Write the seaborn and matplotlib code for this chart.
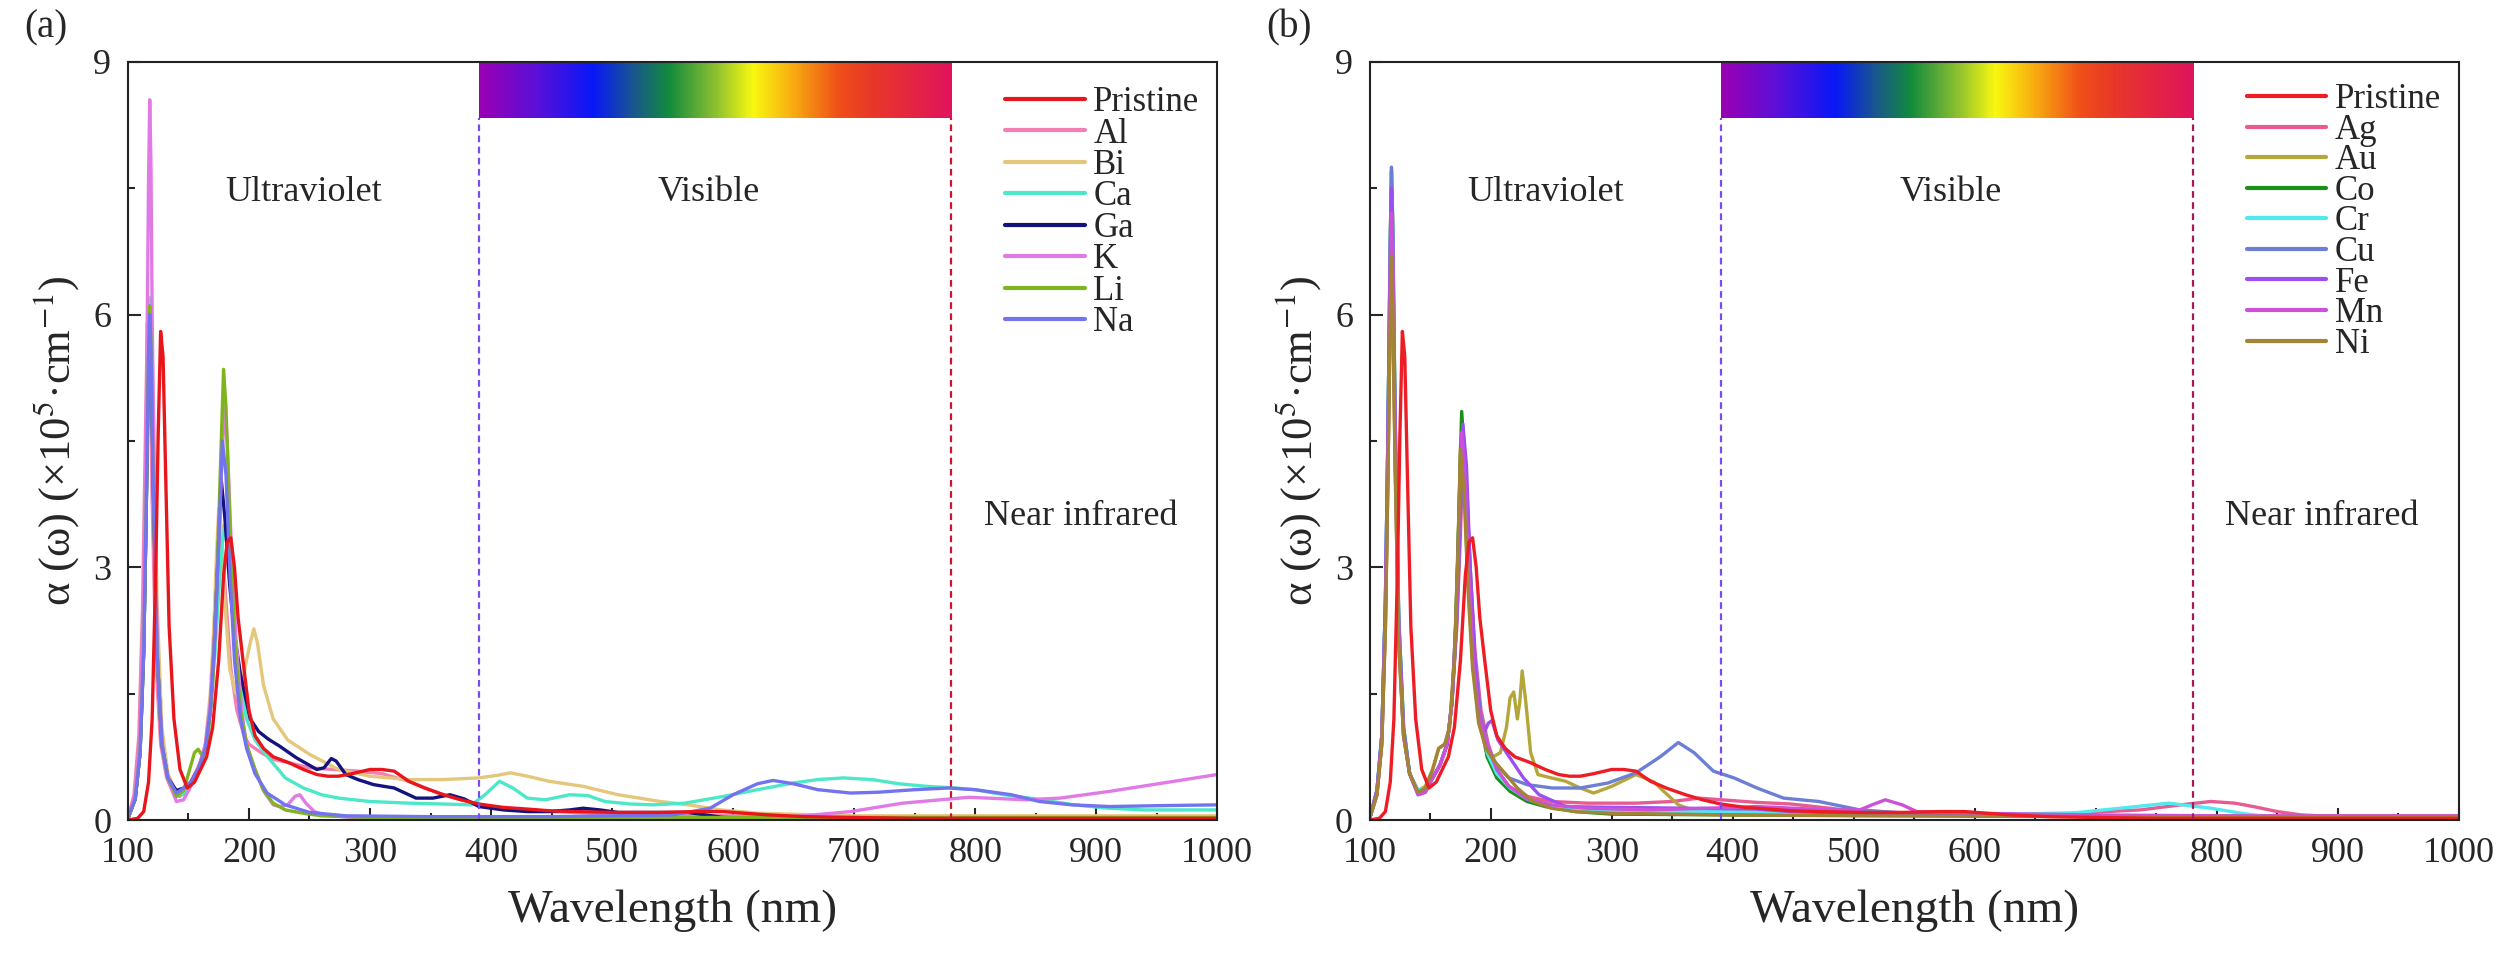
import numpy as np
import pandas as pd
import matplotlib
matplotlib.use("Agg")
import matplotlib.pyplot as plt
from matplotlib.colors import LinearSegmentedColormap
import seaborn as sns

# ---- spectra: wavelength (nm) and alpha (x1e5 cm^-1) ----
wl_pristine = [100, 108, 113, 117, 120, 123, 125, 127, 129, 131, 134, 138, 143, 149, 155, 160, 165, 170, 175, 179,
               182, 185, 188, 191, 195, 200, 205, 212, 220, 233, 245, 256, 265, 274, 285, 300, 310, 320, 332, 345,
               361, 375, 390, 410, 430, 448, 470, 505, 540, 570, 592, 610, 630, 660, 700, 750, 800, 900, 1000]
ab_pristine = [0.0, 0.02, 0.1, 0.45, 1.2, 3.0, 4.6, 5.8, 5.5, 4.2, 2.3, 1.2, 0.6, 0.38, 0.45, 0.6, 0.75, 1.1, 1.9, 2.9,
               3.3, 3.35, 3.0, 2.4, 1.9, 1.3, 1.0, 0.85, 0.75, 0.68, 0.6, 0.54, 0.52, 0.52, 0.55, 0.6, 0.6, 0.58, 0.46, 0.38,
               0.3, 0.24, 0.19, 0.15, 0.13, 0.11, 0.1, 0.09, 0.09, 0.1, 0.1, 0.08, 0.06, 0.04, 0.03, 0.02, 0.02, 0.02, 0.02]

# panel (a)
wl_al = [100, 105, 109, 112, 114, 116, 118, 120, 123, 127, 132, 138, 143, 150, 157, 163, 168, 171, 174, 176, 178, 181,
         185, 190, 196, 200, 210, 220, 233, 250, 270, 290, 310, 332, 360, 400, 450, 500, 600, 700, 800, 900, 1000]
ab_al = [0.02, 0.3, 1.0, 2.5, 4.2, 5.9, 5.6, 3.8, 1.9, 0.9, 0.5, 0.3, 0.28, 0.4, 0.6, 0.8, 1.3, 2.0, 2.9, 3.3, 3.2, 2.6,
         1.8, 1.3, 1.0, 0.9, 0.8, 0.72, 0.68, 0.62, 0.6, 0.58, 0.55, 0.46, 0.3, 0.15, 0.1, 0.07, 0.05, 0.04, 0.03, 0.03, 0.03]

wl_bi = [100, 106, 110, 113, 115, 117, 119, 121, 124, 128, 133, 140, 146, 152, 158, 164, 168, 171, 173, 175, 177, 180,
         184, 189, 194, 198, 201, 204, 207, 212, 220, 232, 250, 274, 300, 332, 360, 390, 405, 416, 430, 448, 476, 505,
         540, 563, 590, 621, 700, 800, 900, 1000]
ab_bi = [0.02, 0.25, 0.8, 2.0, 3.6, 5.3, 6.0, 5.0, 2.6, 1.1, 0.55, 0.32, 0.3, 0.42, 0.6, 0.9, 1.5, 2.3, 3.1, 3.7, 3.5, 2.6,
         1.8, 1.5, 1.6, 1.9, 2.1, 2.27, 2.1, 1.6, 1.2, 0.95, 0.78, 0.6, 0.52, 0.48, 0.48, 0.5, 0.53, 0.56, 0.52, 0.46, 0.4, 0.3,
         0.22, 0.18, 0.12, 0.08, 0.05, 0.05, 0.05, 0.05]

wl_ca = [100, 106, 110, 113, 115, 117, 118, 119, 121, 124, 128, 133, 140, 146, 152, 158, 164, 168, 172, 175, 178, 180,
         183, 187, 192, 198, 205, 216, 230, 245, 260, 274, 300, 332, 360, 384, 395, 407, 418, 430, 445, 465, 480, 494,
         515, 534, 560, 592, 620, 650, 670, 691, 715, 737, 760, 784, 800, 824, 850, 882, 910, 940, 1000]
ab_ca = [0.02, 0.25, 0.8, 2.0, 3.6, 5.6, 6.2, 5.8, 4.0, 2.0, 0.9, 0.5, 0.3, 0.3, 0.42, 0.6, 0.85, 1.3, 2.0, 2.7, 3.3, 3.5,
         3.2, 2.4, 1.7, 1.2, 0.95, 0.74, 0.5, 0.38, 0.3, 0.26, 0.22, 0.2, 0.19, 0.18, 0.3, 0.46, 0.38, 0.26, 0.24, 0.3, 0.29, 0.22,
         0.19, 0.18, 0.2, 0.28, 0.36, 0.44, 0.48, 0.5, 0.48, 0.43, 0.4, 0.38, 0.36, 0.3, 0.25, 0.18, 0.14, 0.12, 0.12]

wl_ga = [100, 106, 110, 113, 115, 117, 118, 119, 121, 124, 128, 133, 140, 146, 152, 158, 164, 168, 171, 174, 177, 180,
         184, 188, 193, 201, 208, 216, 225, 239, 250, 256, 262, 268, 272, 280, 290, 303, 320, 338, 352, 366, 378, 390,
         410, 430, 448, 465, 476, 490, 505, 530, 563, 592, 620, 700, 800, 1000]
ab_ga = [0.02, 0.25, 0.8, 2.0, 3.6, 5.5, 6.1, 5.7, 3.9, 2.0, 0.9, 0.5, 0.35, 0.38, 0.45, 0.6, 0.85, 1.3, 2.0, 3.0, 4.05, 3.6,
         2.8, 2.2, 1.73, 1.2, 1.05, 0.96, 0.88, 0.74, 0.65, 0.6, 0.62, 0.73, 0.7, 0.54, 0.48, 0.42, 0.38, 0.26, 0.26, 0.3, 0.25, 0.16,
         0.12, 0.1, 0.1, 0.12, 0.14, 0.12, 0.09, 0.09, 0.09, 0.03, 0.02, 0.01, 0.01, 0.01]

wl_k = [100, 106, 110, 113, 115, 116, 117, 118, 119, 120, 122, 125, 129, 134, 140, 146, 152, 158, 164, 168, 172, 175,
        178, 180, 182, 185, 189, 194, 198, 205, 212, 220, 225, 232, 238, 242, 247, 254, 262, 285, 350, 450, 600, 650,
        697, 740, 795, 842, 870, 911, 960, 1000]
ab_k = [0.02, 0.3, 1.0, 2.5, 4.5, 6.0, 7.6, 8.55, 7.8, 6.0, 3.6, 1.7, 0.8, 0.45, 0.22, 0.24, 0.4, 0.6, 0.9, 1.4, 2.3, 3.3,
        4.4, 4.9, 4.5, 3.4, 2.2, 1.3, 0.88, 0.6, 0.35, 0.18, 0.16, 0.18, 0.28, 0.3, 0.2, 0.1, 0.06, 0.03, 0.02, 0.02, 0.02, 0.04,
        0.1, 0.2, 0.27, 0.24, 0.26, 0.34, 0.45, 0.54]

wl_li = [100, 106, 110, 113, 115, 117, 118, 119, 121, 124, 128, 133, 140, 146, 151, 155, 158, 162, 166, 170, 173, 176,
         179, 181, 184, 188, 193, 198, 205, 212, 220, 230, 245, 260, 300, 400, 600, 800, 1000]
ab_li = [0.02, 0.25, 0.8, 2.0, 3.6, 5.5, 6.1, 5.7, 3.9, 2.0, 0.9, 0.5, 0.28, 0.35, 0.6, 0.8, 0.84, 0.75, 0.95, 1.6, 2.6, 4.0,
         5.35, 4.9, 3.6, 2.2, 1.3, 0.9, 0.6, 0.35, 0.2, 0.12, 0.08, 0.05, 0.03, 0.03, 0.03, 0.03, 0.03]

wl_na = [100, 106, 110, 113, 115, 117, 118, 119, 121, 124, 128, 133, 140, 146, 152, 158, 164, 168, 172, 175, 178, 181,
         184, 188, 193, 198, 205, 215, 230, 250, 280, 350, 450, 550, 581, 600, 620, 633, 650, 670, 697, 720, 750, 778,
         800, 830, 853, 880, 911, 950, 1000]
ab_na = [0.02, 0.25, 0.8, 2.0, 3.6, 5.5, 6.0, 5.6, 3.9, 2.0, 0.9, 0.5, 0.32, 0.38, 0.45, 0.6, 0.85, 1.3, 2.2, 3.3, 4.5, 4.1,
         3.0, 1.9, 1.2, 0.85, 0.55, 0.32, 0.18, 0.09, 0.05, 0.04, 0.04, 0.06, 0.14, 0.3, 0.43, 0.47, 0.43, 0.36, 0.32, 0.33, 0.36, 0.38,
         0.36, 0.3, 0.22, 0.18, 0.16, 0.17, 0.18]

# panel (b)
wl_ag = [100, 106, 110, 113, 115, 117, 118, 119, 121, 124, 128, 133, 140, 146, 152, 158, 164, 168, 172, 175, 177, 180,
         183, 187, 192, 198, 205, 215, 230, 250, 280, 320, 350, 372, 400, 419, 448, 480, 505, 560, 621, 680, 737, 770,
         795, 815, 830, 850, 870, 900, 1000]
ab_ag = [0.02, 0.3, 0.9, 2.3, 4.0, 6.1, 6.8, 6.3, 4.3, 2.2, 1.0, 0.55, 0.32, 0.35, 0.5, 0.65, 0.9, 1.4, 2.3, 3.4, 4.3, 3.9,
         3.0, 2.0, 1.3, 0.9, 0.6, 0.4, 0.28, 0.22, 0.2, 0.2, 0.22, 0.26, 0.23, 0.21, 0.19, 0.14, 0.1, 0.08, 0.07, 0.08, 0.12, 0.18,
         0.22, 0.2, 0.16, 0.1, 0.06, 0.04, 0.03]

wl_au = [100, 106, 110, 113, 115, 117, 118, 119, 121, 124, 128, 133, 140, 146, 152, 157, 162, 166, 170, 173, 175, 178,
         181, 185, 190, 196, 202, 208, 213, 216, 219, 222, 224, 226, 229, 233, 239, 250, 262, 274, 285, 300, 320, 335,
         343, 355, 370, 400, 500, 700, 1000]
ab_au = [0.02, 0.3, 0.9, 2.3, 4.0, 6.0, 6.7, 6.2, 4.2, 2.1, 1.0, 0.55, 0.35, 0.4, 0.6, 0.85, 0.9, 1.1, 1.9, 3.2, 4.45, 4.0,
         2.9, 1.9, 1.2, 0.9, 0.75, 0.8, 1.1, 1.45, 1.52, 1.2, 1.4, 1.77, 1.4, 0.8, 0.54, 0.5, 0.46, 0.38, 0.32, 0.4, 0.54, 0.45,
         0.34, 0.18, 0.1, 0.07, 0.06, 0.05, 0.05]

wl_co = [100, 106, 110, 113, 115, 117, 118, 119, 121, 124, 128, 133, 140, 146, 152, 158, 164, 168, 171, 174, 176, 179,
         182, 186, 191, 197, 205, 216, 230, 245, 270, 300, 400, 600, 800, 1000]
ab_co = [0.02, 0.35, 1.0, 2.6, 4.5, 6.9, 7.7, 7.1, 4.8, 2.4, 1.1, 0.55, 0.32, 0.35, 0.5, 0.65, 0.9, 1.4, 2.3, 3.8, 4.85, 4.2,
         3.0, 1.9, 1.2, 0.75, 0.5, 0.34, 0.22, 0.16, 0.1, 0.07, 0.06, 0.05, 0.04, 0.04]

wl_cr = [100, 106, 110, 113, 115, 117, 118, 119, 121, 124, 128, 133, 140, 146, 152, 158, 164, 168, 171, 174, 176, 179,
         182, 186, 191, 197, 205, 216, 230, 250, 280, 330, 400, 500, 600, 679, 720, 760, 795, 820, 842, 870, 1000]
ab_cr = [0.02, 0.35, 1.0, 2.6, 4.5, 6.8, 7.6, 7.0, 4.7, 2.4, 1.1, 0.55, 0.35, 0.38, 0.5, 0.65, 0.9, 1.4, 2.2, 3.4, 4.25, 3.8,
         2.8, 1.8, 1.2, 0.8, 0.55, 0.38, 0.25, 0.15, 0.12, 0.1, 0.1, 0.08, 0.07, 0.08, 0.14, 0.2, 0.14, 0.08, 0.04, 0.03, 0.03]

wl_cu = [100, 106, 110, 113, 115, 117, 118, 119, 121, 124, 128, 133, 140, 146, 152, 158, 164, 168, 172, 175, 177, 180,
         183, 187, 192, 198, 205, 215, 230, 251, 274, 297, 320, 340, 355, 368, 384, 401, 420, 442, 471, 505, 563, 621,
         700, 800, 1000]
ab_cu = [0.02, 0.35, 1.0, 2.6, 4.5, 6.9, 7.75, 7.1, 4.8, 2.4, 1.1, 0.55, 0.3, 0.33, 0.5, 0.65, 0.9, 1.4, 2.4, 3.6, 4.5, 4.0,
         3.0, 1.9, 1.2, 0.85, 0.65, 0.5, 0.42, 0.38, 0.38, 0.44, 0.56, 0.75, 0.92, 0.8, 0.58, 0.5, 0.38, 0.26, 0.22, 0.12, 0.06, 0.06,
         0.04, 0.03, 0.03]

wl_fe = [100, 106, 110, 113, 115, 117, 118, 119, 121, 124, 128, 133, 140, 146, 152, 158, 164, 168, 172, 175, 177, 180,
         183, 187, 191, 195, 198, 201, 206, 213, 220, 227, 240, 262, 300, 361, 420, 448, 500, 600, 700, 800, 1000]
ab_fe = [0.02, 0.35, 1.0, 2.6, 4.5, 6.7, 7.5, 6.9, 4.6, 2.3, 1.05, 0.55, 0.32, 0.35, 0.5, 0.65, 0.9, 1.4, 2.4, 3.7, 4.7, 4.2,
         3.0, 1.9, 1.2, 1.05, 1.15, 1.18, 0.95, 0.8, 0.65, 0.5, 0.3, 0.16, 0.15, 0.14, 0.13, 0.1, 0.08, 0.06, 0.05, 0.04, 0.04]

wl_mn = [100, 106, 110, 113, 115, 117, 118, 119, 121, 124, 128, 133, 140, 146, 152, 158, 164, 168, 172, 174, 176, 179,
         182, 186, 191, 197, 205, 215, 230, 250, 280, 330, 380, 420, 450, 480, 505, 515, 526, 540, 552, 600, 700, 800, 1000]
ab_mn = [0.02, 0.3, 0.95, 2.4, 4.2, 6.4, 7.2, 6.7, 4.5, 2.2, 1.0, 0.55, 0.3, 0.33, 0.5, 0.65, 0.9, 1.4, 2.6, 3.7, 4.6, 4.0,
         2.9, 1.8, 1.2, 0.9, 0.6, 0.4, 0.25, 0.18, 0.14, 0.12, 0.14, 0.16, 0.14, 0.12, 0.12, 0.18, 0.24, 0.18, 0.1, 0.08, 0.06, 0.05, 0.05]

wl_ni = [100, 106, 110, 113, 115, 117, 118, 119, 121, 124, 128, 133, 140, 146, 152, 157, 162, 166, 170, 173, 175, 178,
         181, 185, 190, 196, 203, 212, 222, 235, 250, 270, 300, 350, 400, 500, 700, 1000]
ab_ni = [0.02, 0.3, 0.9, 2.3, 4.0, 6.0, 6.7, 6.2, 4.2, 2.1, 1.0, 0.55, 0.33, 0.38, 0.6, 0.85, 0.9, 1.1, 1.9, 3.2, 4.4, 3.9,
         2.8, 1.8, 1.15, 0.85, 0.7, 0.55, 0.38, 0.22, 0.14, 0.1, 0.08, 0.07, 0.06, 0.05, 0.04, 0.04]

labels_a = ["Pristine", "Al", "Bi", "Ca", "Ga", "K", "Li", "Na"]
colors_a = ["#e8161b", "#f47fb4", "#e3c77a", "#4de8c8", "#13137e", "#e27ae6", "#80b41e", "#7373f0"]
labels_b = ["Pristine", "Ag", "Au", "Co", "Cr", "Cu", "Fe", "Mn", "Ni"]
colors_b = ["#ee1c24", "#e75a92", "#b5a63a", "#1a8f1a", "#4fe9ee", "#6c7fd4", "#9b4ff0", "#cc50d8", "#a38434"]

series_a = {"Pristine": (wl_pristine, ab_pristine), "Al": (wl_al, ab_al), "Bi": (wl_bi, ab_bi), "Ca": (wl_ca, ab_ca),
            "Ga": (wl_ga, ab_ga), "K": (wl_k, ab_k), "Li": (wl_li, ab_li), "Na": (wl_na, ab_na)}
series_b = {"Pristine": (wl_pristine, ab_pristine), "Ag": (wl_ag, ab_ag), "Au": (wl_au, ab_au), "Co": (wl_co, ab_co),
            "Cr": (wl_cr, ab_cr), "Cu": (wl_cu, ab_cu), "Fe": (wl_fe, ab_fe), "Mn": (wl_mn, ab_mn), "Ni": (wl_ni, ab_ni)}

spectrum_colors = ["#9a00b4", "#5a10d8", "#0818f8", "#1a5a8a", "#128a3e", "#8cc030", "#f8f810",
                   "#f8b010", "#f05018", "#e83828", "#e0145c"]
spectrum_pos = [0.0, 0.12, 0.24, 0.33, 0.40, 0.50, 0.58, 0.66, 0.76, 0.83, 1.0]

sns.set_style("ticks")
plt.rcParams["font.family"] = ["Liberation Serif", "DejaVu Serif"]
plt.rcParams["mathtext.fontset"] = "stix"
plt.rcParams["axes.linewidth"] = 1.5

fig = plt.figure(figsize=(25.04, 9.67), dpi=100)
ax_a = fig.add_axes([0.0511, 0.152, 0.435, 0.784])
ax_b = fig.add_axes([0.547, 0.152, 0.435, 0.784])

cmap = LinearSegmentedColormap.from_list("vis", list(zip(spectrum_pos, spectrum_colors)))
grad = np.linspace(0, 1, 400).reshape(1, -1)


def draw_panel(ax, series, labels, colors, tag, right_dash, leg_top, leg_sp):
    rows = []
    for name in labels:
        w, v = series[name]
        rows.append(pd.DataFrame({"wl": w, "val": v, "el": name}))
    df = pd.concat(rows, ignore_index=True)
    order = labels[1:] + ["Pristine"]
    pal = dict(zip(labels, colors))
    sns.lineplot(data=df, x="wl", y="val", hue="el", hue_order=order, palette=pal,
                 estimator=None, lw=2.4, ax=ax)

    ax.imshow(grad, cmap=cmap, extent=[390, 780, 8.335, 9.0], aspect="auto", zorder=0)
    ax.plot([390, 390], [0, 8.335], ls=(0, (3, 2)), color="#7a4cf0", lw=1.6)
    ax.plot([780, 780], [0, 8.335], ls=(0, (3, 2)), color=right_dash, lw=1.6)

    ax.set_xlim(100, 1000)
    ax.set_ylim(0, 9)
    ax.set_xticks(range(100, 1001, 100))
    ax.set_xticks(range(150, 1000, 100), minor=True)
    ax.set_yticks([0, 3, 6, 9])
    ax.set_yticks([1.5, 4.5, 7.5], minor=True)
    ax.tick_params(which="major", direction="in", length=9, width=1.5, labelsize=26, pad=12)
    ax.tick_params(which="minor", direction="in", length=5, width=1.5)
    for s in ax.spines.values():
        s.set_visible(True)
        s.set_linewidth(1.5)
        s.set_color("#222222")

    ax.set_xlabel("Wavelength (nm)", fontsize=34, labelpad=14)
    ax.set_ylabel(r"α (ω) (×10$^{5}$·cm$^{-1}$)", fontsize=32, labelpad=8)

    ax.text(245, 7.45, "Ultraviolet", fontsize=26, ha="center", va="center")
    ax.text(580, 7.45, "Visible", fontsize=26, ha="center", va="center")
    ax.text(887, 3.6, "Near infrared", fontsize=26, ha="center", va="center")
    ax.text(-0.095, 1.045, tag, transform=ax.transAxes, fontsize=28, ha="left", va="center")

    handles, labs = ax.get_legend_handles_labels()
    lookup = dict(zip(labs, handles))
    leg = ax.legend([lookup[n] for n in labels], labels, loc="upper left",
                    bbox_to_anchor=(0.805, leg_top), frameon=False, fontsize=25,
                    handlelength=2.3, handletextpad=0.25, labelspacing=leg_sp,
                    borderpad=0, borderaxespad=0)
    for h in leg.get_lines():
        h.set_linewidth(3)


draw_panel(ax_a, series_a, labels_a, colors_a, "(a)", "#cc1530", 0.968, -0.045)
draw_panel(ax_b, series_b, labels_b, colors_b, "(b)", "#a81858", 0.972, -0.07)

fig.savefig("out.png", dpi=100)
